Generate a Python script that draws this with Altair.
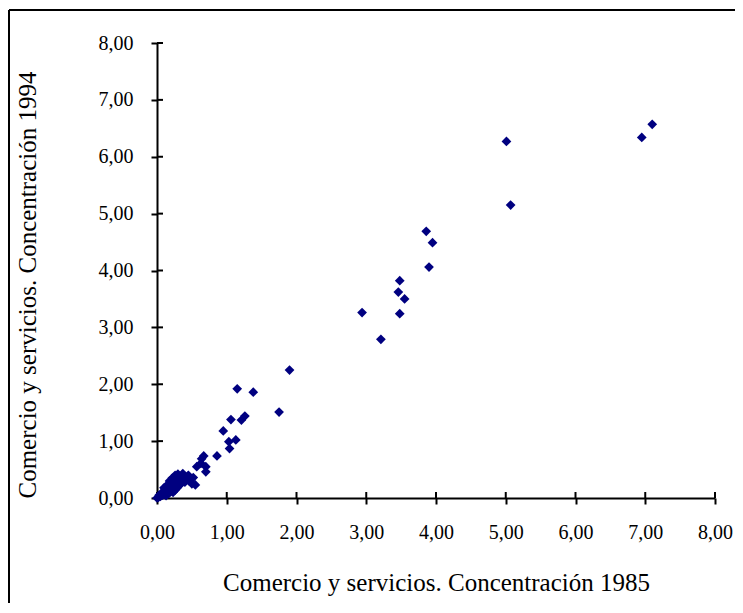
import altair as alt
import pandas as pd

# Concentración 1985 (x) and 1994 (y)
conc_1985 = [
    7.10, 6.95, 5.01, 5.07, 3.86, 3.95, 3.90, 3.48, 3.46, 3.55, 2.94, 3.48, 3.21,
    1.90, 1.15, 1.38, 1.75, 1.06, 1.21, 1.26, 0.95, 1.03, 1.13, 1.04, 0.86, 0.67,
    0.64, 0.57, 0.70, 0.70, 0.55, 0.63,
    0.00, 0.02, 0.03, 0.05, 0.06, 0.08, 0.09, 0.10, 0.11, 0.12, 0.13, 0.14, 0.15,
    0.16, 0.17, 0.18, 0.19, 0.20, 0.21, 0.22, 0.23, 0.24, 0.25, 0.26, 0.27, 0.28,
    0.29, 0.30, 0.31, 0.32, 0.33, 0.34, 0.35, 0.36, 0.38, 0.40, 0.42, 0.44, 0.46,
    0.48, 0.50, 0.18, 0.22, 0.26, 0.14, 0.10, 0.30, 0.37, 0.45, 0.52,
]
conc_1994 = [
    6.57, 6.34, 6.27, 5.15, 4.69, 4.49, 4.06, 3.82, 3.62, 3.50, 3.26, 3.24, 2.79,
    2.25, 1.92, 1.86, 1.51, 1.38, 1.37, 1.44, 1.18, 0.99, 1.02, 0.87, 0.74, 0.74,
    0.69, 0.55, 0.55, 0.46, 0.23, 0.61,
    0.00, 0.01, 0.05, 0.03, 0.08, 0.05, 0.10, 0.07, 0.13, 0.09, 0.04, 0.15, 0.11,
    0.18, 0.08, 0.14, 0.21, 0.12, 0.25, 0.17, 0.10, 0.29, 0.20, 0.14, 0.33, 0.24,
    0.18, 0.38, 0.28, 0.22, 0.30, 0.35, 0.26, 0.31, 0.36, 0.28, 0.33, 0.38, 0.30,
    0.35, 0.25, 0.30, 0.35, 0.40, 0.22, 0.18, 0.42, 0.43, 0.40, 0.36,
]
tick_values = [0, 1, 2, 3, 4, 5, 6, 7, 8]

x_title = "Comercio y servicios. Concentración 1985"
y_title = "Comercio y servicios. Concentración 1994"

df = pd.DataFrame({"x": conc_1985, "y": conc_1994})
ticks = pd.DataFrame({"v": tick_values})

FONT = "Liberation Serif"
label_expr = "replace(format(datum.value, '.2f'), '.', ',')"

xscale = alt.Scale(domain=[0, 8], nice=False)
yscale = alt.Scale(domain=[0, 8], nice=False)

points = alt.Chart(df).mark_point(
    shape="diamond", filled=True, size=95, color="#000080", opacity=1
).encode(
    x=alt.X("x:Q", scale=xscale, axis=alt.Axis(
        title=x_title, values=tick_values, labelExpr=label_expr,
        ticks=True, tickSize=6, tickWidth=2, tickColor="black",
        grid=False, domainColor="black", domainWidth=2, labelPadding=18,
        labelFlush=False, labelOverlap=False,
        labelFont=FONT, labelFontSize=20, labelColor="black",
        titleFont=FONT, titleFontSize=25, titleFontWeight="normal",
        titleColor="black", titlePadding=28)),
    y=alt.Y("y:Q", scale=yscale, axis=alt.Axis(
        title=y_title, values=tick_values, labelExpr=label_expr,
        ticks=True, tickSize=6, tickWidth=2, tickColor="black",
        grid=False, domainColor="black", domainWidth=2, labelPadding=18,
        labelFlush=False, labelOverlap=False,
        labelFont=FONT, labelFontSize=20, labelColor="black",
        titleFont=FONT, titleFontSize=25, titleFontWeight="normal",
        titleColor="black", titlePadding=58, titleAnchor="start")),
)

# inward halves of the crossing tick marks
xticks = alt.Chart(ticks).mark_rule(color="black", strokeWidth=2).encode(
    x=alt.X("v:Q", scale=xscale), y=alt.value(449), y2=alt.value(455))

yticks = alt.Chart(ticks).mark_rule(color="black", strokeWidth=2).encode(
    y=alt.Y("v:Q", scale=yscale), x=alt.value(0), x2=alt.value(6))

frame_left = alt.Chart(ticks).mark_rule(color="black", strokeWidth=2).encode(
    x=alt.value(-148), y=alt.value(-33), y2=alt.value(700))
frame_top = alt.Chart(ticks).mark_rule(color="black", strokeWidth=2).encode(
    x=alt.value(-148), x2=alt.value(700), y=alt.value(-33))

chart = alt.layer(frame_left, frame_top, xticks, yticks, points).properties(
    width=558, height=455,
    background="white",
    autosize=alt.AutoSizeParams(type="none"),
    padding={"left": 149, "top": 35, "right": 20, "bottom": 105},
).configure_view(strokeWidth=0, stroke=None)

chart.save("out.html", embed_options={"renderer": "svg", "actions": False})
